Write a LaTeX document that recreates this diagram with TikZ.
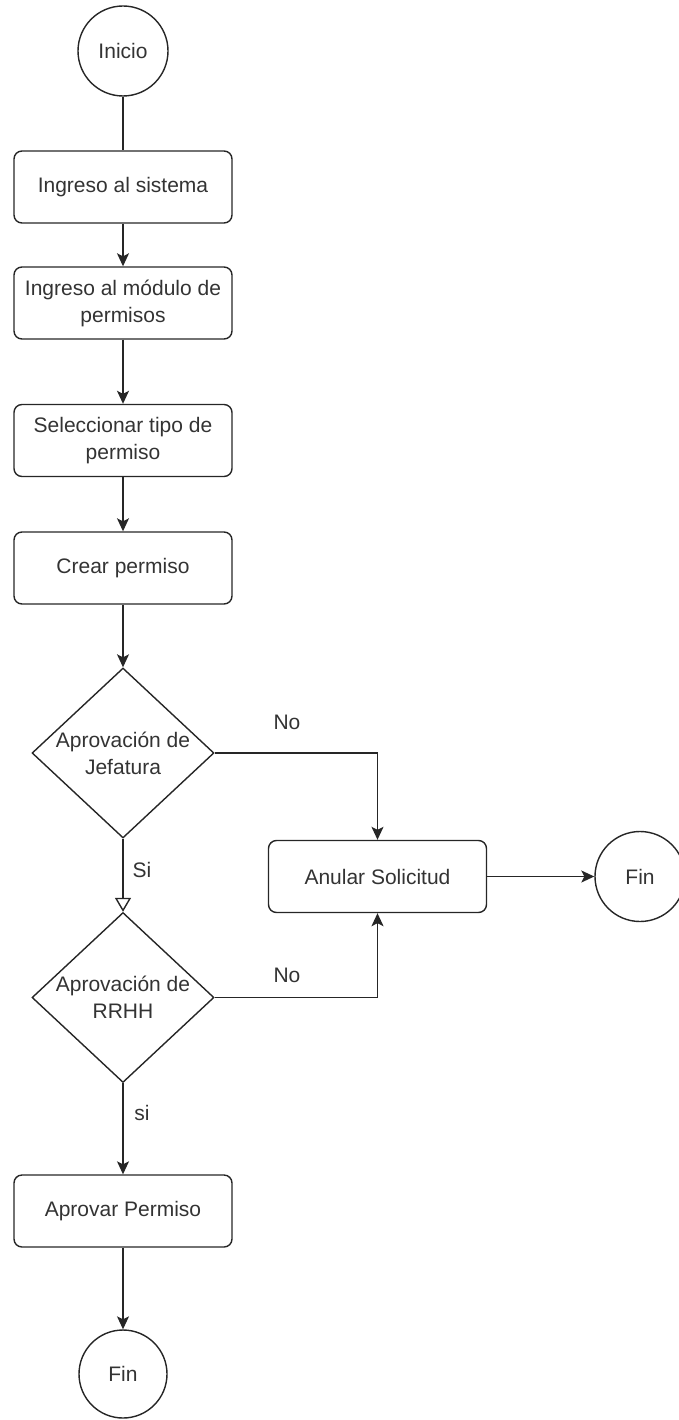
\documentclass[tikz,border=0pt]{standalone}
\usepackage{fontspec}
\setmainfont{Liberation Sans}
\usetikzlibrary{shapes.geometric,arrows.meta}
\definecolor{ln}{HTML}{262626}
\definecolor{tx}{HTML}{333333}
\tikzset{
  base/.style={draw=ln, line width=1.4pt, text=tx, font=\fontsize{21}{27}\selectfont, align=center},
  stepbox/.style={base, rectangle, rounded corners=8pt, minimum width=218pt, minimum height=72pt, inner sep=0pt},
  endcircle/.style={base, circle, minimum size=90pt, inner sep=0pt},
  decision/.style={draw=ln, line width=1.4pt, diamond, minimum width=182pt, minimum height=170pt, inner sep=0pt},
  dtext/.style={text=tx, font=\fontsize{21}{27}\selectfont, align=center, inner sep=0pt},
  lbl/.style={text=tx, font=\fontsize{21}{24}\selectfont, inner sep=0pt},
  conn/.style={draw=ln, line width=1.4pt},
  arr/.style={conn, -{Stealth[length=13pt, width=12pt, inset=3pt]}},
  oarr/.style={conn, -{Triangle[open, length=14pt, width=16pt, fill=white]}}
}
\begin{document}
\begin{tikzpicture}[x=1pt, y=-1pt]
\useasboundingbox (0,0) rectangle (678,1420);
\node[endcircle] (inicio) at (123,51) {Inicio};
\node[stepbox] (b1) at (123,187) {Ingreso al sistema};
\node[stepbox] (b2) at (123,303) {Ingreso al módulo de\\permisos};
\node[stepbox] (b3) at (123,440.5) {Seleccionar tipo de\\permiso};
\node[stepbox] (b4) at (123,568) {Crear permiso};
\node[decision] (d1) at (123,753) {};
\node[dtext] (d1t) at (d1) {Aprovación de\\Jefatura};
\node[decision] (d2) at (123,997.5) {};
\node[dtext] (d2t) at (d2) {Aprovación de\\RRHH};
\node[stepbox] (anular) at (377.5,876.5) {Anular Solicitud};
\node[endcircle] (fin1) at (640,876.5) {Fin};
\node[stepbox] (b5) at (123,1211) {Aprovar Permiso};
\node[endcircle, minimum size=88pt] (fin2) at (123,1374) {Fin};

\node[lbl] (no1) at (287,722) {No};
\node[lbl] (no2) at (287,975) {No};
\node[lbl] (si1) at (142,870) {Si};
\node[lbl] (si2) at (142,1113) {si};

\draw[conn] (inicio) -- (b1);
\draw[arr] (b1) -- (b2);
\draw[arr] (b2) -- (b3);
\draw[arr] (b3) -- (b4);
\draw[arr] (b4) -- (d1.north);
\draw[arr] (d1.east) -| (anular.north);
\draw[oarr] (d1.south) -- (d2.north);
\draw[arr] (d2.east) -| (anular.south);
\draw[arr] (anular) -- (fin1);
\draw[arr] (d2.south) -- (b5);
\draw[arr] (b5) -- (fin2);
\end{tikzpicture}
\end{document}
